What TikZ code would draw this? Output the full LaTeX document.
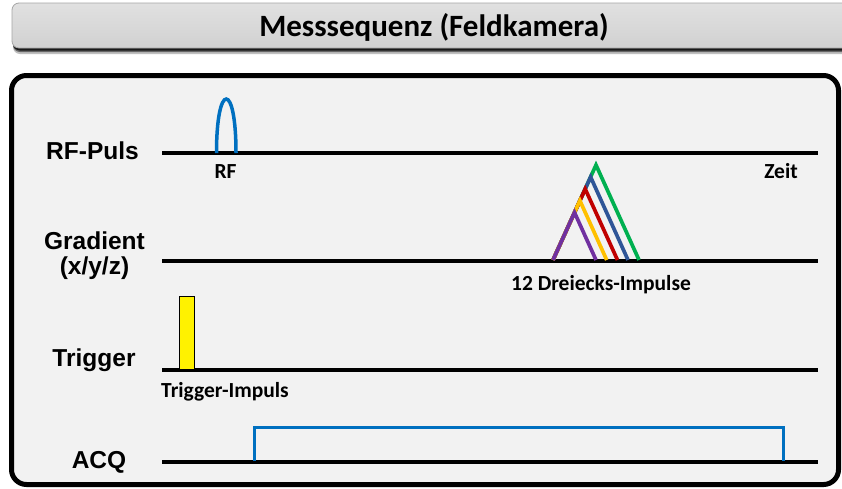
\documentclass[tikz,border=0pt]{standalone}
\usepackage{fontspec}
\setmainfont{Liberation Sans}
\newfontfamily\calfont{Carlito}
\definecolor{panel}{HTML}{F2F2F2}
\definecolor{pulseblue}{HTML}{0070C0}
\definecolor{gpurple}{HTML}{7030A0}
\definecolor{gyellow}{HTML}{FFC000}
\definecolor{gred}{HTML}{C00000}
\definecolor{gblue}{HTML}{2F5597}
\definecolor{ggreen}{HTML}{00B050}
\begin{document}
\begin{tikzpicture}[x=1pt,y=-1pt,
  axis/.style={line width=4pt, black},
  rowlabel/.style={font=\fontsize{24.5}{27}\selectfont\bfseries, inner sep=0pt},
  sublabel/.style={font=\calfont\fontsize{21.5}{23}\selectfont\bfseries, inner sep=0pt},
  tri/.style={line width=3.7pt, line join=miter},
]
\useasboundingbox (0,0) rectangle (842,488);
\fill[white] (0,0) rectangle (842,488);

% title bar with drop shadow
\fill[black!25, rounded corners=7pt] (13,9) rectangle (860,54);
\fill[black!60, rounded corners=7pt] (13,8) rectangle (860,52);
\fill[black!90, rounded corners=7pt] (13,7) rectangle (860,50.5);
\shade[top color=black!12, bottom color=black!18, draw=black!35, line width=0.8pt, rounded corners=7pt]
  (12,3) rectangle (860,48);
\node[font=\calfont\fontsize{31}{33}\selectfont\bfseries, inner sep=0pt] (title) at (434,27) {Messsequenz (Feldkamera)};

% main panel
\draw[line width=5pt, fill=panel, rounded corners=15pt] (11.5,75.5) rectangle (838.5,484.5);

% time axes
\coordinate (rfA) at (162,153);  \coordinate (rfB) at (818,153);
\coordinate (grA) at (162,261);  \coordinate (grB) at (818,261);
\coordinate (trA) at (162,370);  \coordinate (trB) at (818,370);
\coordinate (acA) at (162,462);  \coordinate (acB) at (818,462);
\draw[axis] (rfA) -- (rfB);
\draw[axis] (grA) -- (grB);
\draw[axis] (trA) -- (trB);
\draw[axis] (acA) -- (acB);

% row labels
\node[rowlabel] (lrf) at (92.5,151) {RF-Puls};
\node[rowlabel] (lgr) at (94.5,241) {Gradient};
\node[rowlabel] (lgr2) at (94.5,268) {(x/y/z)};
\node[rowlabel] (ltr) at (94,360) {Trigger};
\node[rowlabel] (lac) at (99,462) {ACQ};

% RF pulse
\draw[pulseblue, line width=3.5pt] (216.5,153) .. controls (216.5,81) and (236,81) .. (236,153);
\node[sublabel] (lrfp) at (225.5,172) {RF};
\node[sublabel] (lzeit) at (781,171) {Zeit};

% nested triangular gradient pulses
\coordinate (g0) at (553,260);
\draw[tri, ggreen]  (g0) -- (596,165) -- (639,260);
\draw[tri, gblue]   (g0) -- (590.6,177) -- (628,260);
\draw[tri, gred]    (g0) -- (585.2,189) -- (617.5,260);
\draw[tri, gyellow] (g0) -- (579.9,200.6) -- (606.7,260);
\draw[tri, gpurple] (g0) -- (574.5,212.5) -- (596,260);
\node[sublabel] (lgrp) at (601,285) {12 Dreiecks-Impulse};

% trigger pulse
\draw[line width=0.8pt, fill=yellow] (179.3,296) rectangle (194.3,369);
\node[sublabel] (ltrp) at (225,392) {Trigger-Impuls};

% acquisition window
\draw[pulseblue, line width=3pt] (254,461) -- (254,427) -- (783,427) -- (783,461);
\end{tikzpicture}
\end{document}
